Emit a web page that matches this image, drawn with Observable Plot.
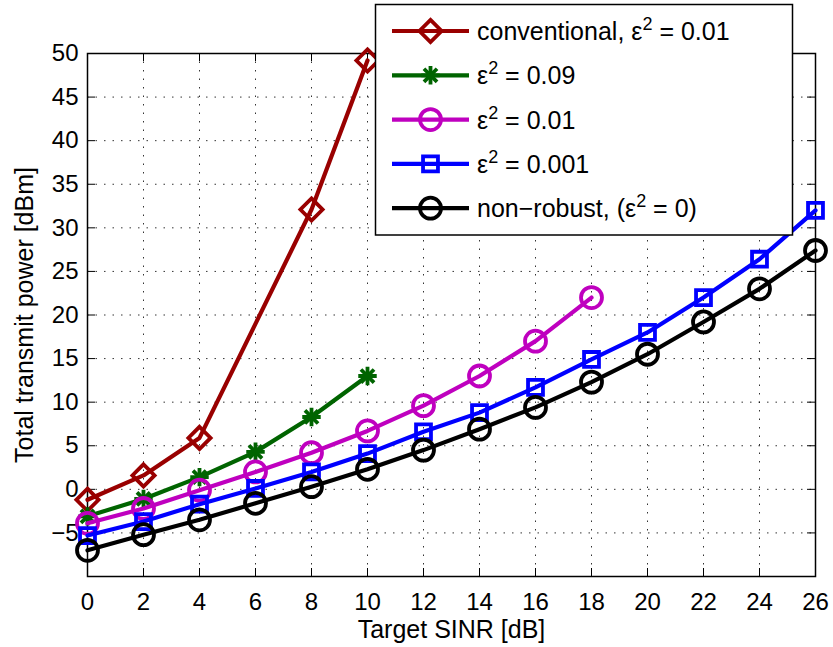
<!DOCTYPE html>
<html><head><meta charset="utf-8">
<script src="https://cdn.jsdelivr.net/npm/d3@7"></script>
<script src="https://cdn.jsdelivr.net/npm/@observablehq/plot@0.6"></script>
<style>html,body{margin:0;padding:0;background:#fff;} #chart{position:relative;width:833px;height:647px;}</style>
</head><body><div id="chart"></div>
<script>
// ---- data ----
const xTicks = [0,2,4,6,8,10,12,14,16,18,20,22,24,26];
const yTicks = [-5,0,5,10,15,20,25,30,35,40,45,50];
const convX = [0,2,4,8,10];
const convY = [-1.2,1.6,5.9,32.1,49.2];
const eps09X = [0,2,4,6,8,10];
const eps09Y = [-3.1,-1.1,1.4,4.3,8.3,13.0];
const eps01X = [0,2,4,6,8,10,12,14,16,18];
const eps01Y = [-3.9,-2.2,-0.1,2.0,4.2,6.7,9.6,13.0,17.0,22.0];
const eps001X = [0,2,4,6,8,10,12,14,16,18,20,22,24,26];
const eps001Y = [-5.3,-3.7,-1.7,0.1,2.0,4.1,6.6,8.8,11.7,14.9,18.0,22.0,26.4,32.0];
const nonRobX = [0,2,4,6,8,10,12,14,16,18,20,22,24,26];
const nonRobY = [-7.0,-5.2,-3.5,-1.6,0.3,2.3,4.5,6.9,9.4,12.3,15.5,19.2,23.0,27.4];
const seriesNames = ["conventional, ε|2| = 0.01", "ε|2| = 0.09", "ε|2| = 0.01", "ε|2| = 0.001", "non−robust, (ε|2| = 0)"];
const xLabel = "Target SINR [dB]";
const yLabel = "Total transmit power [dBm]";

// ---- layout ----
const W = 833, H = 647, mL = 87, mT = 53, mR = 18, mB = 71;
const fW = W - mL - mR, fH = H - mT - mB, tickLen = 8;
const font = "'Liberation Sans', Arial, Helvetica, sans-serif";

const series = [
  {x: convX, y: convY, color: "#990000", symbols: ["diamond2"], r: 10, sw: 3.8},
  {x: eps09X, y: eps09Y, color: "#006400", symbols: ["plus", "times"], r: 6, sw: 3.8},
  {x: eps01X, y: eps01Y, color: "#bf00bf", symbols: ["circle"], r: 10.5, sw: 3.8},
  {x: eps001X, y: eps001Y, color: "#0000ff", symbols: ["square2"], r: 9.5, sw: 3.8},
  {x: nonRobX, y: nonRobY, color: "#000000", symbols: ["circle"], r: 10.5, sw: 3.8}
];

const seriesMarks = series.flatMap(s => {
  const rows = s.x.map((x, i) => ({x, y: s.y[i]}));
  return [
    Plot.line(rows, {x: "x", y: "y", stroke: s.color, strokeWidth: 4.2, strokeLinejoin: "round"}),
    ...s.symbols.map(sym => Plot.dot(rows, {x: "x", y: "y", stroke: s.color, fill: "none", strokeWidth: s.sw, symbol: sym, r: s.r}))
  ];
});

const grid = {stroke: "#000", strokeOpacity: 0.8, strokeWidth: 1, strokeDasharray: "1.5,7"};

const plot = Plot.plot({
  width: W, height: H, marginLeft: mL, marginTop: mT, marginRight: mR, marginBottom: mB,
  style: {fontFamily: font, fontSize: "24px", color: "#000", background: "#fff", overflow: "visible"},
  x: {domain: [0, 26]},
  y: {domain: [-10, 50]},
  marks: [
    Plot.gridX(xTicks, grid),
    Plot.gridY(yTicks, grid),
    Plot.tickX(xTicks, {x: d => d, insetTop: fH - tickLen, stroke: "#000", strokeWidth: 1}),
    Plot.tickX(xTicks, {x: d => d, insetBottom: fH - tickLen, stroke: "#000", strokeWidth: 1}),
    Plot.tickY(yTicks, {y: d => d, insetLeft: fW - tickLen, stroke: "#000", strokeWidth: 1}),
    Plot.tickY(yTicks, {y: d => d, insetRight: fW - tickLen, stroke: "#000", strokeWidth: 1}),
    Plot.axisX(xTicks, {tickSize: 0, tickPadding: 16, label: null, fontSize: 24}),
    Plot.axisY(yTicks, {tickSize: 0, tickPadding: 9, label: null, fontSize: 24}),
    Plot.frame({stroke: "#000", strokeWidth: 1.5}),
    ...seriesMarks,
    Plot.text([xLabel], {text: d => d, frameAnchor: "bottom", lineAnchor: "middle", textAnchor: "middle", dy: 53, fontSize: 25}),
    Plot.text([yLabel], {text: d => d, frameAnchor: "left", lineAnchor: "middle", textAnchor: "middle", dx: -63, rotate: -90, fontSize: 25})
  ]
});
document.getElementById("chart").appendChild(plot);

// ---- legend ----
const svg = d3.select(plot);
const lg = svg.append("g").attr("font-family", font).attr("text-anchor", "start");
lg.append("rect").attr("x", 375.5).attr("y", 4.5).attr("width", 417).attr("height", 230.5)
  .attr("fill", "#fff").attr("stroke", "#000").attr("stroke-width", 1.5);
const symMap = {diamond2: d3.symbolDiamond2, plus: d3.symbolPlus, times: d3.symbolTimes, circle: d3.symbolCircle, square2: d3.symbolSquare2};
series.forEach((s, i) => {
  const cy = 31 + i * 44.3;
  lg.append("line").attr("x1", 392).attr("x2", 469).attr("y1", cy).attr("y2", cy)
    .attr("stroke", s.color).attr("stroke-width", 4.2);
  s.symbols.forEach(sym => {
    lg.append("path").attr("d", d3.symbol(symMap[sym], Math.PI * s.r * s.r)())
      .attr("transform", `translate(430.5,${cy})`).attr("fill", "none")
      .attr("stroke", s.color).attr("stroke-width", s.sw);
  });
  const parts = seriesNames[i].split("|");
  const t = lg.append("text").attr("x", 477).attr("y", cy + 9).attr("font-size", 25).attr("fill", "#000").attr("text-anchor", "start");
  t.append("tspan").text(parts[0]);
  t.append("tspan").attr("font-size", 18).attr("dy", -10).text(parts[1]);
  t.append("tspan").attr("dy", 10).text(parts[2]);
});
</script>
</body></html>
